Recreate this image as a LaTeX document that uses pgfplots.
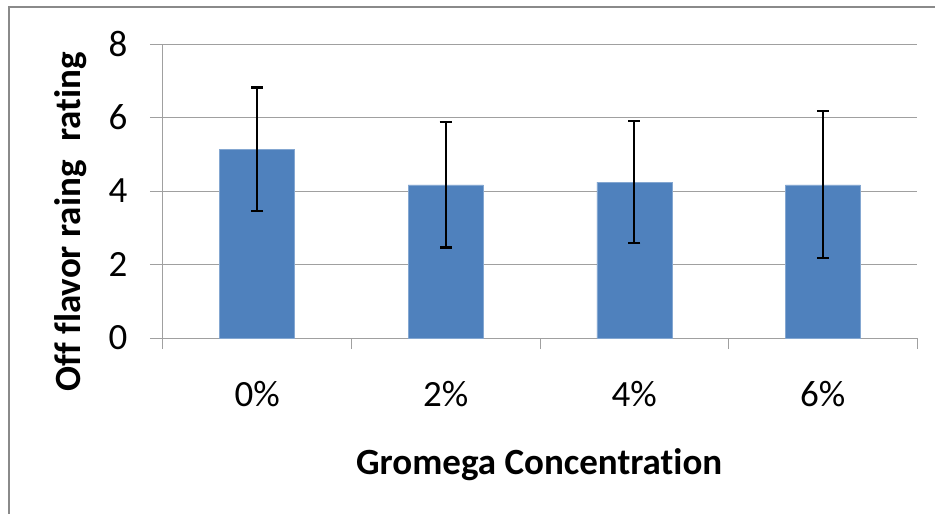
\documentclass[border=0pt]{standalone}
\usepackage{pgfplots}
\pgfplotsset{compat=1.18}
\usepackage{fontspec}
\setmainfont{Carlito}[Ligatures=NoCommon]
\definecolor{barblue}{HTML}{4F81BD}
\definecolor{gridgray}{HTML}{A0A0A0}
\definecolor{framegray}{HTML}{8A8A8A}
\begin{document}
\begin{tikzpicture}
\useasboundingbox (-163pt,-176pt) rectangle (772pt,338pt);
\draw[framegray, line width=1.5pt] (-154pt,-250pt) -- (-154pt,331pt) -- (850pt,331pt);
\begin{axis}[
  at={(0pt,0pt)}, anchor=south west,
  scale only axis, width=754pt, height=294pt,
  xmin=-0.5, xmax=3.5, ymin=0, ymax=8,
  ytick={0,2,4,6,8},
  xtick={0,1,2,3},
  xticklabels={0\%,2\%,4\%,6\%},
  minor xtick={-0.5,0.5,1.5,2.5,3.5},
  axis x line*=bottom, axis y line*=left,
  axis line style={gridgray, line width=1pt},
  tick align=outside,
  major tick length=13pt, minor tick length=11pt,
  xtick style={draw=none},
  minor x tick style={gridgray, line width=1pt, draw=gridgray},
  ytick style={gridgray, line width=1pt},
  ymajorgrids, major grid style={gridgray, line width=1pt},
  tick label style={font=\fontsize{37}{42}\selectfont},
  /pgf/number format/assume math mode=true,
  xticklabel style={yshift=-27pt},
  yticklabel style={xshift=-19pt},
  xlabel={\textbf{Gromega Concentration}},
  ylabel={\textbf{Off flavor raing\hspace{0.5em}rating}},
  label style={font=\fontsize{37}{42}\selectfont},
  xlabel style={at={(axis description cs:0.499,-0.43)}, anchor=center},
  ylabel style={at={(axis description cs:-0.123,0.395)}, anchor=center, rotate=0},
  clip=false,
]
\addplot[ybar, bar width=75pt, fill=barblue, draw=barblue!70!white, line width=0.5pt,
  error bars/.cd, y dir=both, y explicit,
  error bar style={black, line width=2.4pt},
  error mark options={black, line width=2.4pt, mark size=6pt, rotate=90}]
  coordinates {
    (0,5.14) +- (0,1.68)
    (1,4.17) +- (0,1.71)
    (2,4.24) +- (0,1.66)
    (3,4.17) +- (0,2.00)
  };
\end{axis}
\end{tikzpicture}
\end{document}
